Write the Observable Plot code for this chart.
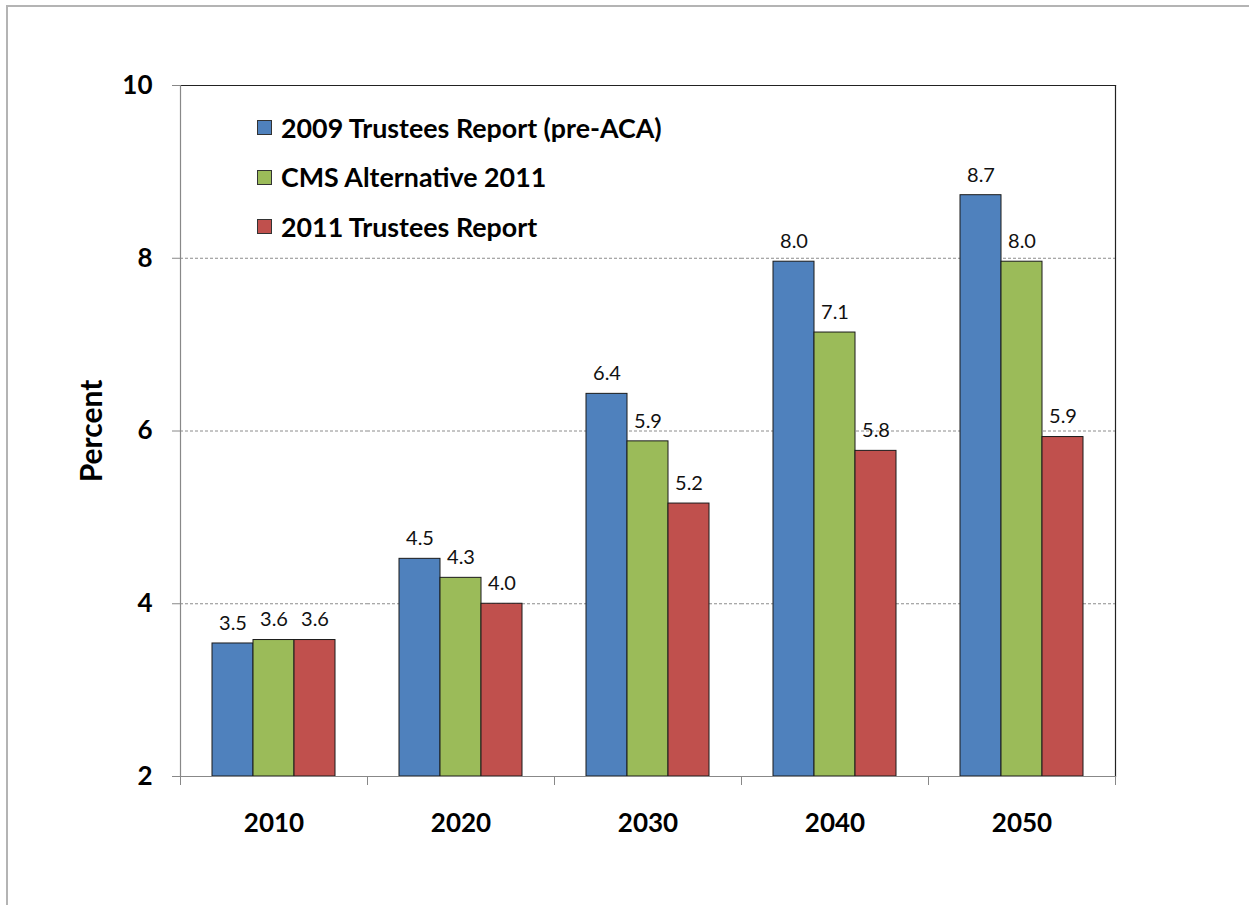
<!DOCTYPE html>
<html>
<head>
<meta charset="utf-8">
<script src="https://cdn.jsdelivr.net/npm/d3@7"></script>
<script src="https://cdn.jsdelivr.net/npm/@observablehq/plot@0.6"></script>
<style>
html, body { margin: 0; padding: 0; background: #fff; }
#wrap { position: relative; width: 1249px; height: 905px; overflow: hidden; font-family: Lato, sans-serif; }
#outer { position: absolute; left: 6px; top: 5px; width: 1400px; height: 1000px; border: 2px solid #b4b4b4; box-sizing: border-box; }
#chart { position: absolute; left: 0; top: 0; }
#legend { position: absolute; left: 257px; top: 103px; }
.row { display: flex; align-items: center; height: 49.5px; font-weight: bold; font-size: 26.8px; color: #000; white-space: nowrap; }
.sw { width: 15px; height: 15px; border: 1px solid #333; margin-right: 9px; box-sizing: border-box; }
svg g[aria-label="y-axis tick label"] text,
svg g[aria-label="fx-axis tick label"] text { font-weight: bold; font-size: 26px; }
svg g[aria-label="y-axis label"] text { font-weight: bold; font-size: 30px; }
</style>
</head>
<body>
<div id="wrap">
  <div id="outer"></div>
  <div id="chart"></div>
  <div id="legend"></div>
</div>
<script>
// ---- data ----
const years = ["2010", "2020", "2030", "2040", "2050"];
const seriesNames = ["2009 Trustees Report (pre-ACA)", "CMS Alternative 2011", "2011 Trustees Report"];
const seriesColors = ["#4F81BD", "#9BBB59", "#C0504D"];
const trustees2009 = [3.54, 4.52, 6.43, 7.96, 8.73];
const cmsAlt2011 = [3.58, 4.30, 5.88, 7.14, 7.96];
const trustees2011 = [3.58, 4.00, 5.16, 5.77, 5.93];
const yTicks = [2, 4, 6, 8, 10];
const gridTicks = [4, 6, 8];
const yLabel = "Percent";

const seriesValues = [trustees2009, cmsAlt2011, trustees2011];
const data = [];
years.forEach((yr, i) => {
  seriesNames.forEach((s, j) => data.push({ year: yr, series: s, value: seriesValues[j][i] }));
});

const W = 1249, H = 905;
const mL = 178, mR = 133, mT = 85, mB = 129;
const plotH = H - mT - mB;

const chart = Plot.plot({
  width: W, height: H,
  marginLeft: mL, marginRight: mR, marginTop: mT, marginBottom: mB,
  style: { fontFamily: "Lato, sans-serif", fontSize: "19px", background: "transparent", overflow: "visible", color: "#000" },
  fx: { domain: years, padding: 0, label: null },
  x: { domain: seriesNames, paddingInner: 0, paddingOuter: 0.75, axis: null },
  y: { domain: [2, 10], ticks: yTicks, label: yLabel },
  color: { domain: seriesNames, range: seriesColors },
  marks: [
    Plot.ruleY(gridTicks, { stroke: "#8c8c8c", strokeDasharray: "3,2", strokeWidth: 1 }),
    Plot.barY(data, { fx: "year", x: "series", y1: 2, y2: "value", fill: "series", stroke: "#1a1a1a", strokeWidth: 1 }),
    Plot.text(data, { fx: "year", x: "series", y: "value", text: d => d.value.toFixed(1), dy: -20, fontSize: 20, fill: "#111" }),
    // category boundary ticks below the axis
    Plot.frame({ anchor: "left", insetTop: plotH, insetBottom: -8, stroke: "#888" }),
    Plot.frame({ anchor: "right", insetTop: plotH, insetBottom: -8, stroke: "#888" }),
    // plot area border
    Plot.frame({ facet: "super", anchor: "top", stroke: "#222", strokeWidth: 1.2 }),
    Plot.frame({ facet: "super", anchor: "right", stroke: "#222", strokeWidth: 1.2 }),
    Plot.frame({ facet: "super", anchor: "left", stroke: "#888", strokeWidth: 1.2 }),
    Plot.frame({ facet: "super", anchor: "bottom", stroke: "#888", strokeWidth: 1.2 }),
    Plot.axisY({ ticks: yTicks, tickSize: 8, tickPadding: 20, stroke: "#888", fontSize: 26, fontWeight: "bold",
      label: yLabel, labelAnchor: "center", labelArrow: "none", labelOffset: 100 }),
    Plot.axisFx({ anchor: "bottom", tickSize: 0, tickPadding: 37, fontSize: 26, fontWeight: "bold", label: null })
  ]
});
document.getElementById("chart").appendChild(chart);

const legend = document.getElementById("legend");
seriesNames.forEach((s, i) => {
  const row = document.createElement("div");
  row.className = "row";
  const sw = document.createElement("div");
  sw.className = "sw";
  sw.style.background = seriesColors[i];
  const t = document.createElement("span");
  t.textContent = s;
  row.appendChild(sw);
  row.appendChild(t);
  legend.appendChild(row);
});
</script>
</body>
</html>
